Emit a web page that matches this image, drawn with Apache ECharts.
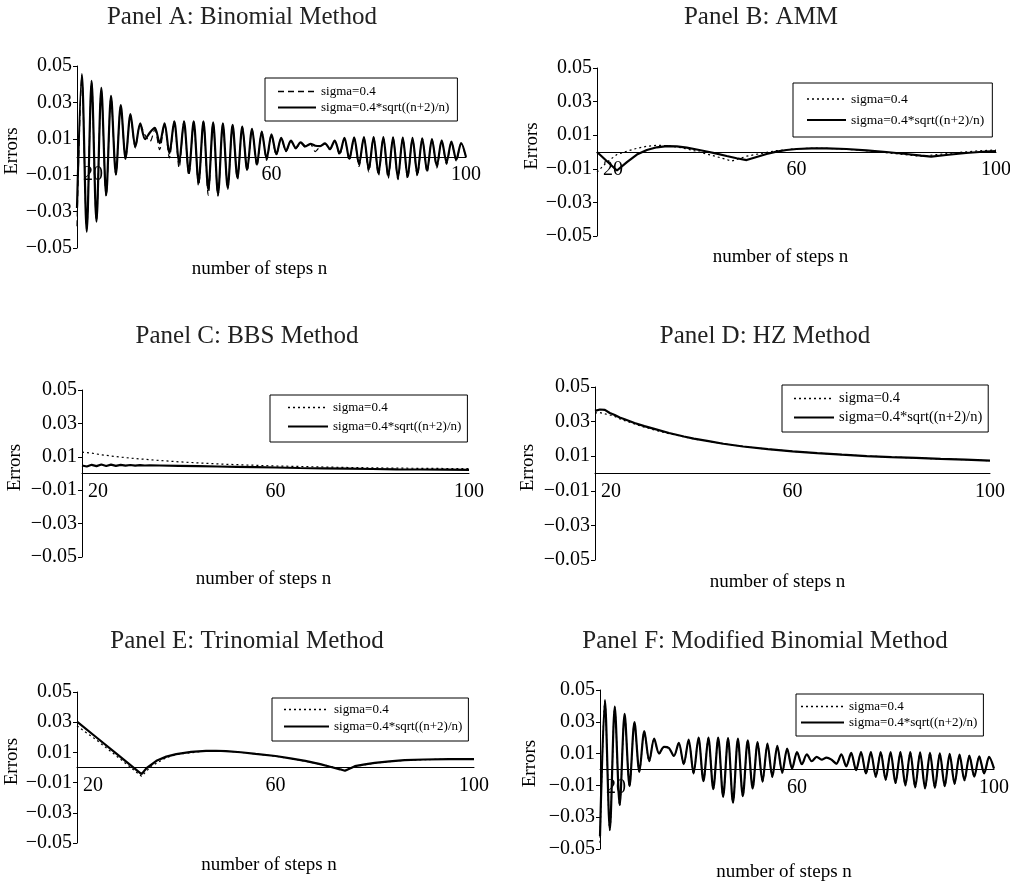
<!DOCTYPE html>
<html>
<head>
<meta charset="utf-8">
<script src="https://cdn.jsdelivr.net/npm/echarts@6.0.0/dist/echarts.min.js"></script>
<style>
  html, body { margin: 0; padding: 0; background: #fff; }
  #chart { width: 1010px; height: 881px; }
</style>
</head>
<body>
<div id="chart"></div>
<script>
var titles = ['Panel A: Binomial Method', 'Panel B: AMM', 'Panel C: BBS Method',
              'Panel D: HZ Method', 'Panel E: Trinomial Method', 'Panel F: Modified Binomial Method'];
var seriesNames = ['sigma=0.4', 'sigma=0.4*sqrt((n+2)/n)'];
var xTicks = [20, 60, 100];
var yTicks = [-0.05, -0.03, -0.01, 0.01, 0.03, 0.05];

// number of steps n, 20..100 (panels A and F have one value per n)
var steps = [];
for (var n = 20; n <= 100; n++) steps.push(n);

// Panel A: Binomial
var aSolid = [-0.028, 0.0455, -0.041, 0.0418, -0.0355, 0.038, -0.021, 0.0336, -0.0096, 0.0285,
  -0.001, 0.0236, 0.0055, 0.0185, 0.0098, 0.0135, 0.016, 0.0076, 0.0185, 0.002,
  0.0196, -0.0033, 0.0196, -0.0087, 0.0196, -0.0142, 0.0196, -0.018, 0.019, -0.0205,
  0.0185, -0.017, 0.0176, -0.0115, 0.0167, -0.007, 0.0155, -0.0042, 0.014, -0.001,
  0.0125, 0.0015, 0.0105, 0.0035, 0.009, 0.005, 0.008, 0.0058, 0.0072, 0.0062,
  0.006, 0.0075, 0.0045, 0.009, 0.002, 0.0105, -0.001, 0.0108, -0.004, 0.011,
  -0.0068, 0.011, -0.009, 0.011, -0.0105, 0.0108, -0.0115, 0.0107, -0.011, 0.0105,
  -0.0095, 0.0103, -0.0075, 0.0098, -0.005, 0.0092, -0.003, 0.0085, -0.0015, 0.0077, 0.0];
var aDash = [-0.038, 0.044, -0.040, 0.041, -0.035, 0.037, -0.0215, 0.033, -0.0098, 0.028,
  -0.0015, 0.0232, 0.005, 0.0178, 0.012, 0.0085, 0.015, 0.004, 0.0182, -0.0005,
  0.0194, -0.006, 0.0194, -0.0102, 0.0194, -0.016, 0.0194, -0.021, 0.0188, -0.0215,
  0.0183, -0.0178, 0.0174, -0.0125, 0.0165, -0.008, 0.0153, -0.005, 0.0138, -0.0018,
  0.0123, 0.001, 0.0103, 0.003, 0.0088, 0.0045, 0.0078, 0.0052, 0.007, 0.003,
  0.0058, 0.0072, 0.004, 0.0088, 0.001, 0.0103, -0.002, 0.0106, -0.0052, 0.0108,
  -0.0082, 0.0108, -0.0103, 0.0108, -0.0118, 0.0106, -0.0125, 0.0105, -0.012, 0.0103,
  -0.0105, 0.0101, -0.0085, 0.0096, -0.006, 0.009, -0.004, 0.0083, -0.0022, 0.0075, -0.0005];

// Panel B: AMM
var bSolidN = [20, 22, 24, 26, 28, 30, 32, 34, 36, 38, 40, 42, 44, 46, 48, 50, 52, 54, 56, 58,
  60, 63, 66, 70, 74, 78, 82, 85, 87, 90, 94, 98, 100];
var bSolid = [0.0, -0.0055, -0.011, -0.006, -0.0015, 0.0012, 0.0028, 0.0035, 0.0034, 0.0026,
  0.0015, 0.0003, -0.001, -0.0024, -0.0037, -0.0048, -0.003, -0.0012, 0.0002, 0.0012,
  0.0018, 0.0022, 0.0022, 0.0018, 0.001, 0.0, -0.0012, -0.0022, -0.0028, -0.0018, -0.0006, 0.0003, 0.0006];
var bDashN = [20, 22, 24, 26, 28, 30, 32, 34, 36, 38, 40, 42, 44, 46, 47, 50, 53, 56, 60, 64,
  68, 72, 76, 80, 84, 85, 88, 92, 96, 100];
var bDash = [-0.012, -0.006, -0.0015, 0.0005, 0.0022, 0.0034, 0.004, 0.0038, 0.003, 0.0018,
  0.0004, -0.0012, -0.0028, -0.0045, -0.0054, -0.0025, -0.0008, 0.0008, 0.002, 0.0023,
  0.002, 0.0012, 0.0002, -0.001, -0.0023, -0.0025, -0.0016, -0.0004, 0.0006, 0.0012];

// Panel C: BBS
var cSolidN = [20, 21, 22, 23, 24, 25, 26, 27, 28, 29, 30, 31, 32, 33, 34, 36, 40, 44, 48, 52,
  56, 60, 65, 70, 75, 80, 85, 90, 95, 100];
var cSolid = [0.0048, 0.0042, 0.0052, 0.0044, 0.0054, 0.0045, 0.0053, 0.0046, 0.0052, 0.0047,
  0.0051, 0.0047, 0.005, 0.0048, 0.0049, 0.0048, 0.0046, 0.0044, 0.0042, 0.004,
  0.0038, 0.0036, 0.0033, 0.0031, 0.0029, 0.0027, 0.0025, 0.0024, 0.0023, 0.0022];
var cDashN = [20, 22, 24, 26, 28, 30, 33, 36, 40, 45, 50, 55, 60, 65, 70, 75, 80, 85, 90, 95, 100];
var cDash = [0.0128, 0.0122, 0.0112, 0.0105, 0.0098, 0.0092, 0.0085, 0.0078, 0.007, 0.0062,
  0.0055, 0.005, 0.0045, 0.0042, 0.0039, 0.0036, 0.0034, 0.0032, 0.0031, 0.003, 0.0029];

// Panel D: HZ
var dN = [20, 21, 22, 23, 24, 25, 26, 28, 30, 32, 35, 38, 40, 43, 46, 50, 55, 60, 65, 70,
  75, 80, 85, 90, 95, 100];
var dSolid = [0.0362, 0.037, 0.0368, 0.035, 0.0338, 0.0324, 0.0314, 0.0292, 0.0274, 0.0258,
  0.0234, 0.0214, 0.0202, 0.0187, 0.0172, 0.0156, 0.0141, 0.0128, 0.0118, 0.0109,
  0.0101, 0.0095, 0.009, 0.0084, 0.008, 0.0074];
var dDash = [0.035, 0.0352, 0.0345, 0.0338, 0.033, 0.0316, 0.0306, 0.0286, 0.0268, 0.0252,
  0.023, 0.0212, 0.02, 0.0186, 0.0172, 0.0156, 0.0141, 0.0128, 0.0118, 0.0109,
  0.0101, 0.0095, 0.009, 0.0084, 0.008, 0.0074];

// Panel E: Trinomial
var eSolidN = [20, 24, 28, 33, 34, 36, 38, 40, 43, 46, 48, 50, 53, 56, 60, 63, 66, 69, 71, 73,
  74, 76, 78, 80, 83, 86, 90, 95, 100];
var eSolid = [0.0304, 0.0197, 0.009, -0.0044, -0.0005, 0.0044, 0.0072, 0.0089, 0.0103, 0.011,
  0.0111, 0.0109, 0.0101, 0.009, 0.0076, 0.006, 0.0044, 0.0022, 0.0005, -0.0012,
  -0.0022, 0.0009, 0.0021, 0.0031, 0.0041, 0.0049, 0.0053, 0.0056, 0.0056];
var eDashN = [20, 24, 28, 33, 35, 38, 40, 45, 48, 52, 56, 60, 65, 70, 73, 74, 76, 80, 85, 90, 95, 100];
var eDash = [0.0276, 0.018, 0.0075, -0.0058, 0.001, 0.0065, 0.0086, 0.0106, 0.011, 0.0104,
  0.009, 0.0075, 0.0048, 0.0016, -0.001, -0.002, 0.0007, 0.0029, 0.0045, 0.0052, 0.0055, 0.0055];

// Panel F: Modified Binomial
var fSolid = [-0.042, 0.0437, -0.038, 0.0396, -0.0223, 0.035, -0.0104, 0.0298, -0.0015, 0.0242,
  0.0052, 0.0194, 0.01, 0.0142, 0.0135, 0.0085, 0.0167, 0.0033, 0.0188, -0.0025,
  0.02, -0.0073, 0.02, -0.0123, 0.02, -0.0171, 0.0198, -0.0208, 0.0194, -0.0167,
  0.0183, -0.0119, 0.0173, -0.0077, 0.0163, -0.0046, 0.0148, -0.002, 0.0131, 0.0006,
  0.011, 0.0033, 0.0096, 0.0052, 0.0079, 0.0062, 0.0075, 0.0062, 0.0037, 0.0096,
  0.002, 0.0104, -0.0004, 0.011, -0.0025, 0.011, -0.0046, 0.011, -0.0065, 0.011,
  -0.0085, 0.011, -0.01, 0.011, -0.0112, 0.0108, -0.0119, 0.0105, -0.0115, 0.0102,
  -0.0105, 0.0098, -0.009, 0.0093, -0.0068, 0.0088, -0.0045, 0.0083, -0.0025, 0.0079, 0.0006];
var fDash = [-0.046, 0.0432, -0.0385, 0.0392, -0.0228, 0.0346, -0.0108, 0.0295, -0.0018, 0.024,
  0.005, 0.0192, 0.0098, 0.0141, 0.0133, 0.0084, 0.0166, 0.0031, 0.0187, -0.0027,
  0.0199, -0.0075, 0.0199, -0.0125, 0.0199, -0.0173, 0.0197, -0.021, 0.0193, -0.0169,
  0.0182, -0.0121, 0.0172, -0.0079, 0.0162, -0.0048, 0.0147, -0.0022, 0.013, 0.0005,
  0.0109, 0.0032, 0.0095, 0.0051, 0.0078, 0.0061, 0.0074, 0.0061, 0.0036, 0.0095,
  0.0019, 0.0103, -0.0005, 0.0109, -0.0026, 0.0109, -0.0047, 0.0109, -0.0066, 0.0109,
  -0.0086, 0.0109, -0.0101, 0.0109, -0.0113, 0.0107, -0.012, 0.0104, -0.0116, 0.0101,
  -0.0106, 0.0097, -0.0091, 0.0092, -0.0069, 0.0087, -0.0046, 0.0082, -0.0026, 0.0078, 0.0005];

function pairs(xs, ys) {
    var out = [];
    for (var i = 0; i < Math.min(xs.length, ys.length); i++) out.push([xs[i], ys[i]]);
    return out;
}

var panelData = [
    { dash: pairs(steps, aDash), solid: pairs(steps, aSolid) },
    { dash: pairs(bDashN, bDash), solid: pairs(bSolidN, bSolid) },
    { dash: pairs(cDashN, cDash), solid: pairs(cSolidN, cSolid) },
    { dash: pairs(dN, dDash), solid: pairs(dN, dSolid) },
    { dash: pairs(eDashN, eDash), solid: pairs(eSolidN, eSolid) },
    { dash: pairs(steps, fDash), solid: pairs(steps, fSolid) }
];

// placement of each panel: grid [left, top, width, height], title centre, legend box, name gaps
var layout = [
    { grid: [77, 66, 389, 182], title: [242, 5], lg: [265, 78, [7, 8, 7, 12], 38, 3, 13], xGap: 103, xShift: 24, yGap: 54, dashType: [6, 4], smooth: 0.3 },
    { grid: [597, 68, 399, 168], title: [761, 5], lg: [793, 83, [9, 8, 10, 13], 39, 7, 13.5], xGap: 96, xShift: 32, yGap: 55, dashType: [2, 3], smooth: false },
    { grid: [82, 390, 387, 167], title: [247, 324], lg: [270, 395, [6, 6, 9, 17], 40, 6, 13], xGap: 96, xShift: 24, yGap: 57, dashType: [2, 3], smooth: false },
    { grid: [595, 387, 395, 173], title: [765, 324], lg: [782, 385, [6, 6, 7, 11], 40, 4, 14.5], xGap: 99, xShift: 30, yGap: 57, dashType: [2, 3], smooth: false },
    { grid: [77, 692, 397, 151], title: [247, 629], lg: [272, 698, [5, 6, 8, 11], 45, 4, 13], xGap: 88, xShift: 13, yGap: 55, dashType: [2, 3], smooth: false },
    { grid: [600, 690, 394, 159], title: [765, 629], lg: [796, 694, [6, 6, 7, 4], 43, 3, 13], xGap: 93, xShift: 26, yGap: 60, dashType: [2, 3], smooth: 0.3 }
];

var serif = '"Liberation Serif", "Times New Roman", serif';

function fmtY(v) {
    return (v < 0 ? '\u2212' : '') + Math.abs(v).toFixed(2);
}

// the first x label sits just right of the y axis
function fmtX(v) {
    return v === xTicks[0] ? '{first|' + v + '}' : String(v);
}

var option = {
    animation: false,
    backgroundColor: '#fff',
    title: [], legend: [], grid: [], xAxis: [], yAxis: [], series: []
};

layout.forEach(function (p, i) {
    option.title.push({
        text: titles[i], left: p.title[0], top: p.title[1], textAlign: 'center', padding: 0,
        textStyle: { fontFamily: serif, fontSize: 25, fontWeight: 'normal', color: '#222' }
    });
    option.grid.push({
        left: p.grid[0], top: p.grid[1], width: p.grid[2], height: p.grid[3],
        containLabel: false, outerBoundsMode: 'none'
    });
    option.xAxis.push({
        type: 'value', gridIndex: i, min: 20, max: 100,
        // y range is symmetric, so zero sits half the grid height above the bottom
        offset: -p.grid[3] / 2,
        name: 'number of steps n', nameLocation: 'middle', nameGap: p.xGap,
        nameTextStyle: { fontFamily: serif, fontSize: 19, color: '#000', padding: [0, p.xShift, 0, 0] },
        axisLine: { onZero: false, lineStyle: { color: '#000', width: 1 } },
        axisTick: { show: false },
        splitLine: { show: false },
        axisLabel: {
            customValues: xTicks, alignMinLabel: 'left', margin: 8, formatter: fmtX,
            fontFamily: serif, fontSize: 20, color: '#000',
            rich: { first: { fontFamily: serif, fontSize: 20, color: '#000', padding: [0, 0, 0, 6] } }
        }
    });
    option.yAxis.push({
        type: 'value', gridIndex: i, min: -0.05, max: 0.05,
        name: 'Errors', nameLocation: 'middle', nameGap: p.yGap,
        nameTextStyle: { fontFamily: serif, fontSize: 19, color: '#000', padding: [0, 0, 0, 12] },
        axisLine: { show: true, lineStyle: { color: '#000', width: 1 } },
        axisTick: { show: true, customValues: yTicks, length: 4, lineStyle: { color: '#000' } },
        splitLine: { show: false },
        axisLabel: {
            customValues: yTicks, formatter: fmtY, margin: 5,
            fontFamily: serif, fontSize: 20, color: '#000'
        }
    });
    var dashStyle = { color: '#000', width: 1.2, type: p.dashType };
    var solidStyle = { color: '#000', width: 2.2, type: 'solid' };
    option.series.push({
        name: seriesNames[0], type: 'line', xAxisIndex: i, yAxisIndex: i,
        data: panelData[i].dash, symbol: 'none', smooth: p.smooth,
        lineStyle: dashStyle, itemStyle: { color: '#000' }, z: 2, silent: true
    });
    option.series.push({
        name: seriesNames[1], type: 'line', xAxisIndex: i, yAxisIndex: i,
        data: panelData[i].solid, symbol: 'none', smooth: p.smooth,
        lineStyle: solidStyle, itemStyle: { color: '#000' }, z: 3, silent: true
    });
    var noMark = { color: 'rgba(0,0,0,0)', borderWidth: 0 };
    option.legend.push({
        left: p.lg[0], top: p.lg[1], padding: p.lg[2], orient: 'vertical',
        itemWidth: p.lg[3], itemHeight: 14, itemGap: p.lg[4],
        borderColor: '#000', borderWidth: 1, backgroundColor: '#fff',
        selectedMode: false,
        textStyle: { fontFamily: serif, fontSize: p.lg[5], color: '#000' },
        data: [
            { name: seriesNames[0], itemStyle: noMark, lineStyle: { color: '#000', width: 1.5, type: p.dashType } },
            { name: seriesNames[1], itemStyle: noMark, lineStyle: { color: '#000', width: 2, type: 'solid' } }
        ]
    });
});

var chart = echarts.init(document.getElementById('chart'));
chart.setOption(option);
</script>
</body>
</html>
